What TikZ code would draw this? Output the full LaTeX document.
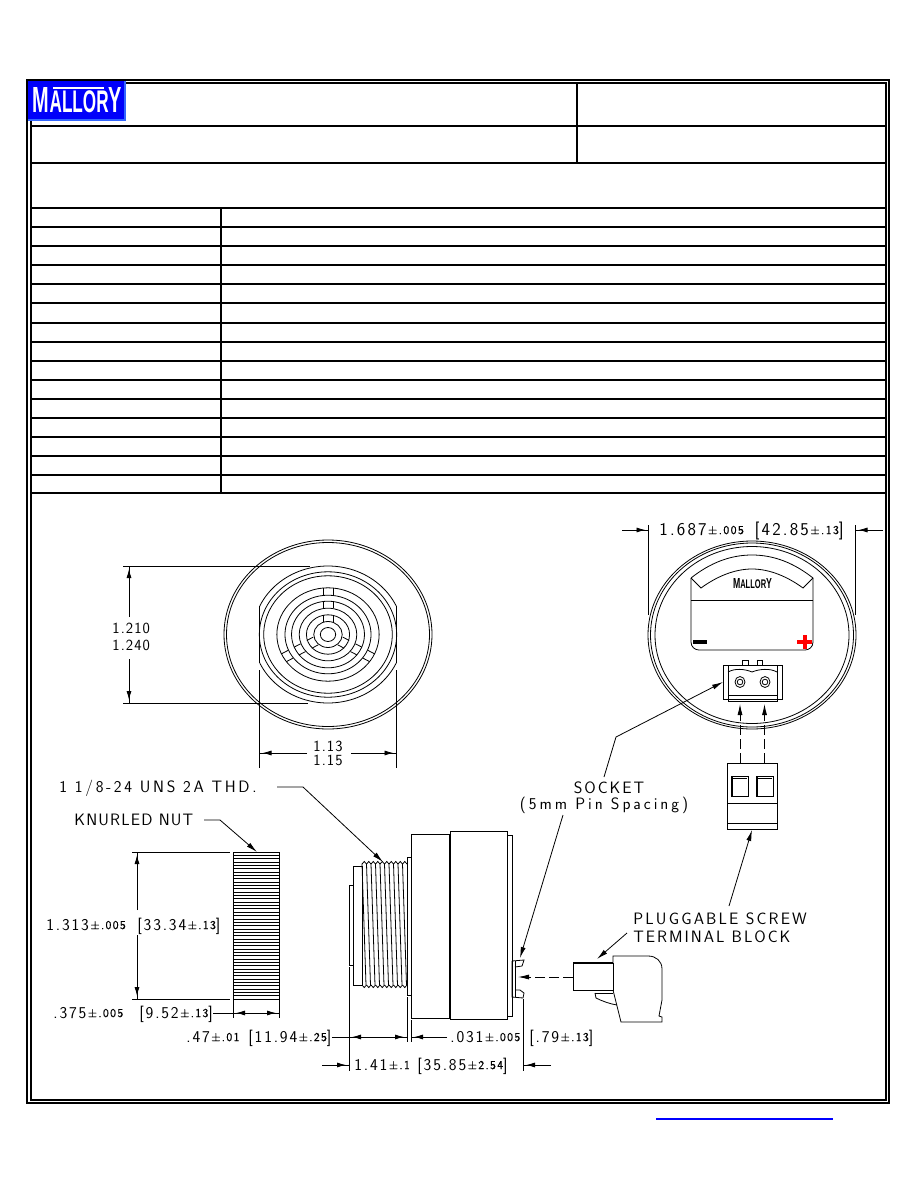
\documentclass[tikz,border=0pt]{standalone}
\usepackage{fontspec}
\usepackage{xcolor}
\usepackage{graphicx}
\usetikzlibrary{arrows.meta,positioning,calc}
\newfontfamily\cadfont{Latin Modern Sans}
\newfontfamily\logofont[Scale=1]{Liberation Sans}
\newcommand{\tolval}[1]{\hspace{1.5pt}{\fontsize{12}{12}\selectfont\addfontfeature{FakeBold=.5}\raisebox{1.5pt}{±#1}}}
\newcommand{\logotext}{{\logofont\bfseries M{\fontsize{8.6}{8.6}\selectfont ALLOR}Y}}
\definecolor{logoblue}{rgb}{0,0,.98}
\definecolor{logoedge}{rgb}{.2,.4,1}

\begin{document}
\begin{tikzpicture}[x=1pt,y=-1pt,line width=.8pt]
	\tikzstyle{frameline}=[line width=2.2pt]
	\tikzstyle{label}=[font=\cadfont\fontsize{15.5}{15.5}\selectfont\addfontfeature{LetterSpace=7},inner sep=0pt,anchor=west,text height=11pt,text depth=0pt]
	\tikzstyle{note}=[label,font=\cadfont\fontsize{16.5}{16.5}\selectfont\addfontfeature{LetterSpace=#1}]
	\tikzstyle{measure}=[note=11]
	\tikzstyle{dimline}=[-{Latex[length=9pt,width=5pt]Bar[width=.8pt,line width=3pt]}]
	\tikzstyle{dimboth}=[{Bar[width=.8pt,line width=3pt]Latex[length=9pt,width=5pt]}-{Latex[length=9pt,width=5pt]Bar[width=.8pt,line width=3pt]}]
	\tikzstyle{leader}=[-{Latex[length=11pt,width=5pt]}]
	\useasboundingbox (0,0) rectangle (918,1188);

	% page frame and table
	\draw[frameline] (27,80) rectangle (889,1103);
	\draw[frameline] (31,83) rectangle (886,1100);
	\foreach \y in {126,163,208,227,246,265,284,303,323,342,361,380,399,418,437,456,475,493}
		\draw[frameline] (31,\y) -- (886,\y);
	\draw[frameline] (577,83) -- (577,163);
	\draw[frameline] (221,208) -- (221,493);

	% logo
	\fill[logoedge] (28,81) rectangle (126,121);
	\fill[logoblue] (28,81) rectangle (124,119);
	\node[white,inner sep=0pt] (logo) at (77.5,100) {\resizebox{89pt}{25pt}{\logotext}};
	\draw[white,line width=1.8pt] (53,88) -- (104,88);

	% front view
	\draw (328,634.5) ellipse (104 and 94.5);
	\draw (328,634.5) ellipse (101.5 and 92);
	\begin{scope}
		\clip (259.5,540) rectangle (396.5,730);
		\draw (328,634.5) ellipse (75 and 68.5);
	\end{scope}
	\draw (259.5,606) -- (259.5,663);
	\draw (396.5,606) -- (396.5,663);
	\foreach \r in {62.7,58.7,46.7,39.3,33.3,26.3,19.7,13,7}
		\draw (328,634.5) ellipse ({1.095*\r} and \r);
	\foreach \a in {0,120,240} {
		\begin{scope}[shift={(328,634.5)},xscale=1.095,rotate=\a]
			\foreach \ra/\rb in {46.7/39.3,33.3/26.3,19.7/13} {
				\draw (-4.5,-\ra) -- (-4.5,-\rb);
				\draw (4.5,-\ra) -- (4.5,-\rb);
			}
		\end{scope}
	}

	\coordinate (hA) at (123,566);
	\coordinate (hB) at (310,566);
	\coordinate (hC) at (123,703);
	\coordinate (hD) at (308,703);
	\draw (hA) -- (hB);
	\draw (hC) -- (hD);
	\node[label] (h1) at (112,628) {1.210};
	\node[label] (h2) at (112,645) {1.240};
	\draw[dimline] (129,617) -- (129,566);
	\draw[dimline] (129,659) -- (129,703);

	\draw (259.5,670) -- (259.5,768);
	\draw (396.5,670) -- (396.5,768);
	\node[label] (w1) at (313,746) {1.13};
	\node[label] (w2) at (313,760) {1.15};
	\draw[dimline] (307,753) -- (259.5,753);
	\draw[dimline] (351,753) -- (396.5,753);

	% back view
	\draw (752,635) ellipse (104 and 94);
	\draw (752,635) ellipse (101.5 and 92);
	\draw (752,635) ellipse (97 and 88.5);
	\draw (691,578) .. controls (710,563) and (730,555) .. (752,555) .. controls (774,555) and (794,563) .. (813,578);
	\draw (691,578) -- (701,588) .. controls (716,577) and (734,569) .. (752,569) .. controls (770,569) and (788,577) .. (803,588) -- (813,578);
	\draw (691,578) -- (691,642) .. controls (691,647) and (695,650) .. (699,650) -- (805,650) .. controls (809,650) and (813,647) .. (813,642) -- (813,578);
	\draw (691,600) -- (813,600);
	\node[inner sep=0pt] (backlogo) at (752.5,584) {\resizebox{39pt}{10pt}{\logotext}};
	\fill (693,640) rectangle (707,643.5);
	\fill[red] (797,640) rectangle (812,644);
	\fill[red] (802.5,635) rectangle (806.5,649);

	\draw (723,665) rectangle (782,699);
	\draw (728,665) rectangle (777,701);
	\draw (728,695) -- (777,695);
	\draw (728,672) .. controls (735,668) and (745,669) .. (752,672) .. controls (759,669) and (770,668) .. (777,672);
	\draw (742,660) rectangle (748,665);
	\draw (757,660) rectangle (762,665);
	\foreach \x in {740,765} {
		\draw (\x,682) ellipse (5 and 5.5);
		\draw (\x,682) ellipse (2.8 and 2.8);
	}

	\coordinate (blockA) at (740,763);
	\coordinate (blockB) at (764.5,763);
	\draw[dashed,dash pattern=on 10pt off 4pt,-{Latex[length=11pt,width=5pt]}] (blockA) -- (740,704);
	\draw[dashed,dash pattern=on 10pt off 4pt,-{Latex[length=11pt,width=5pt]}] (blockB) -- (764.5,704);

	\draw (727,763) rectangle (777,829);
	\draw (727,803) -- (777,803);
	\draw (727,823) -- (777,823);
	\foreach \x in {731,756} {
		\draw (\x,776) rectangle ++(17,20);
		\draw (\x+1.5,778) -- (\x+16,778);
		\draw (\x+1.5,776) -- (\x+1.5,796);
	}

	\node[note=12,font=\cadfont\fontsize{18}{18}\selectfont\addfontfeature{LetterSpace=12}] (backdim) at (659,530) {1.687\tolval{.005}\hspace{3pt} [42.85\tolval{.13}]};
	\draw (648.5,525) -- (648.5,615);
	\draw (855.5,525) -- (855.5,615);
	\draw[dimline] (622,530) -- (648.5,530);
	\draw[dimline] (883,530) -- (855.5,530);

	% callouts on the right
	\node[note=12,anchor=center] (socket) at (609,787.5) {SOCKET};
	\node[note=18,anchor=center] (spacing) at (604,804) {(5mm Pin Spacing)};
	\coordinate (socketbend) at (616,737);
	\coordinate (sockettip) at (723,682);
	\draw[leader] (604,777) -- (socketbend) -- (sockettip);
	\node[note=13] (plug1) at (633,919) {PLUGGABLE SCREW};
	\node[note=12] (plug2) at (633,937) {TERMINAL BLOCK};
	\draw[leader] (729,906) -- (752,830);
	\draw[leader] (627,933) -- (597,959);
	\draw[leader] (563,815) -- (520,958);

	% knurled nut
	\node[note=7] (nutlabel) at (74,820) {KNURLED NUT};
	\coordinate (nutbend) at (220,820);
	\coordinate (nuttip) at (257,852);
	\draw[leader] (204,820) -- (nutbend) -- (nuttip);
	\draw (233,852) rectangle (279,999);
	\foreach \i in {1,...,43}
		\draw[line width=.6pt] (233,{852+\i*3.34}) -- (279,{852+\i*3.34});
	\draw (132,852) -- (230,852);
	\draw (132,999) -- (230,999);
	\draw[dimline] (137,910) -- (137,852);
	\draw[dimline] (137,935) -- (137,999);
	\node[measure] (nutdia) at (46,925) {1.313\tolval{.005}};
	\node[measure] (nutdiamm) at (137,925) {[33.34\tolval{.13}]};
	\draw (233,1000) -- (233,1018);
	\draw (279,1000) -- (279,1018);
	\node[measure] (nutlen) at (53,1013) {.375\tolval{.005}};
	\node[measure] (nutlenmm) at (139,1013) {[9.52\tolval{.13}]};
	\draw (nutlenmm.east) -- (233,1013);
	\draw[dimboth] (233,1013) -- (279,1013);

	% side view
	\node[note=16] (thdlabel) at (59,787) {1 1/8-24 UNS 2A THD.};
	\coordinate (thdbend) at (303,787);
	\coordinate (thdtip) at (383,862);
	\draw[leader] (277,787) -- (thdbend) -- (thdtip);
	\draw (349,885) rectangle (353,965);
	\draw (353,866) rectangle (362,985);
	\foreach \i in {0,...,9} {
		\draw ({362+\i*4.5},864) -- ++(2.25,-2.5) -- ++(2.25,2.5);
		\draw ({362+\i*4.5},985) -- ++(2.25,2.5) -- ++(2.25,-2.5);
		\draw ({362+\i*4.5},864) -- ({366+\i*4.5},985);
	}
	\draw (407,857) rectangle (411,995);
	\draw (411,834) rectangle (449,1018);
	\draw (450,831) rectangle (507,1019);
	\draw (507,835) rectangle (512,1016);
	\draw (512,961) -- (512,997) -- (523,998) -- (524,993) -- (520,990) -- (515,990);
	\draw (515,961) -- (515,997);
	\draw (512,961) -- (524,960) -- (522,966) -- (515,967);

	\coordinate (extA) at (349,1071);
	\coordinate (extB) at (407,1042);
	\coordinate (extC) at (411,1042);
	\coordinate (extD) at (523,1071);
	\draw (349,967) -- (extA);
	\draw (407,997) -- (extB);
	\draw (411,1020) -- (extC);
	\draw (523,999) -- (extD);

	\node[measure] (thdlen) at (186,1037) {.47\tolval{.01}};
	\node[measure] (thdlenmm) at (248,1037) {[11.94\tolval{.25}]};
	\draw (thdlenmm.east) -- (349,1037);
	\draw[dimboth] (349,1037) -- (407,1037);
	\node[measure] (plate) at (450,1037) {.031\tolval{.005}};
	\node[measure] (platemm) at (529,1037) {[.79\tolval{.13}]};
	\draw[dimline] (447,1037) -- (411,1037);
	\node[measure] (total) at (354,1065) {1.41\tolval{.1}};
	\node[measure] (totalmm) at (417,1065) {[35.85\tolval{2.54}]};
	\draw[dimline] (322,1065) -- (349,1065);
	\draw[dimline] (551,1065) -- (523,1065);

	% plug
	\coordinate (plugmouth) at (573,977);
	\coordinate (socketface) at (518,977);
	\draw[dashed,dash pattern=on 10pt off 4pt,-{Latex[length=11pt,width=5pt]}] (plugmouth) -- (socketface);
	\draw (573,963) rectangle (613,990);
	\draw (573,962) -- (613,962);
	\draw (613,963) -- (613,956) -- (648,956) .. controls (656,956) and (662,961) .. (662,969) -- (662,1000) -- (659,1016) -- (662,1017) -- (662,1022) -- (621,1022) -- (613,990);
	\draw (595,993) -- (613,993);
	\draw (595,993) -- (596,998) .. controls (602,1001) and (610,1004) .. (617,1005);

	% link
	\draw[blue,line width=1.8pt] (656,1119) -- (833,1119);
\end{tikzpicture}
\end{document}
